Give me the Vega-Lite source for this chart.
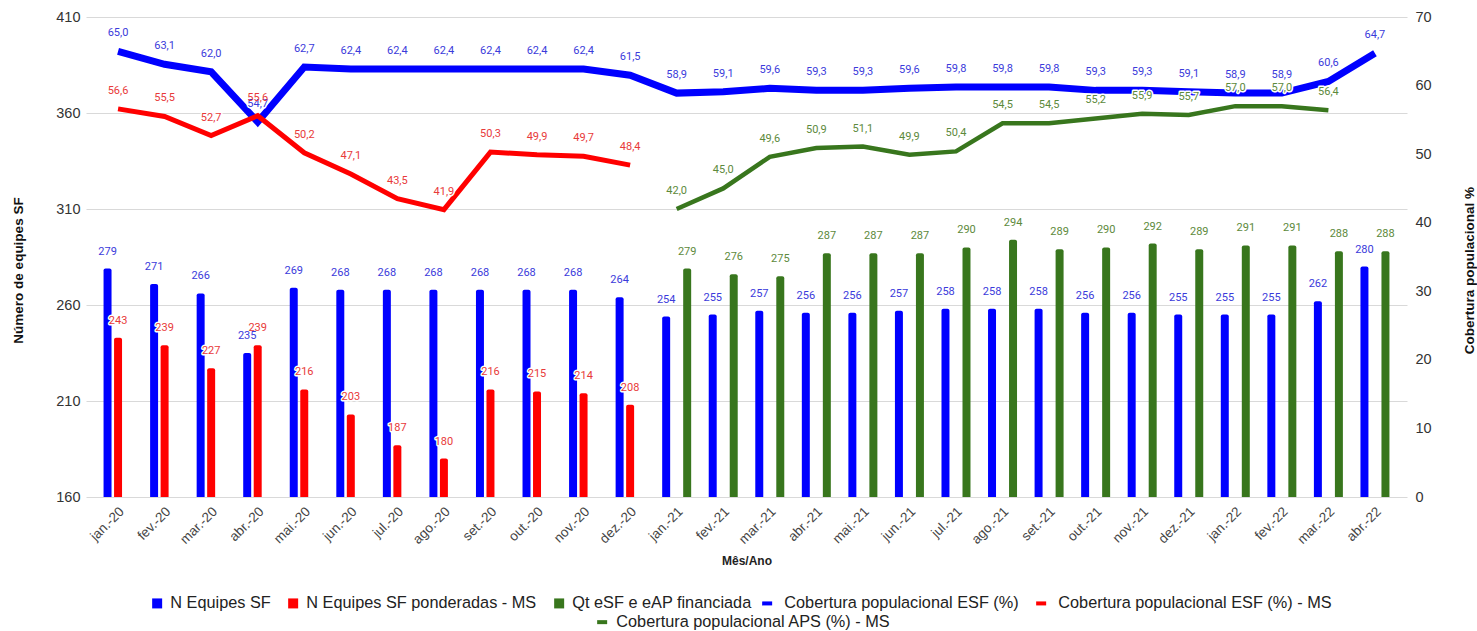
{
  "$schema": "https://vega.github.io/schema/vega-lite/v6.json",
  "width": 1321,
  "height": 480,
  "autosize": {"type": "none"},
  "padding": {"left": 86, "top": 17, "right": 70, "bottom": 134},
  "background": "white",
  "config": {
    "view": {"stroke": null},
    "locale": {"number": {"decimal": ",", "thousands": ".", "grouping": [3], "currency": ["R$", ""]}}
  },
  "datasets": {
    "barras": [
      {"m": "jan.-20", "s": "N Equipes SF", "v": 279},
      {"m": "fev.-20", "s": "N Equipes SF", "v": 271},
      {"m": "mar.-20", "s": "N Equipes SF", "v": 266},
      {"m": "abr.-20", "s": "N Equipes SF", "v": 235},
      {"m": "mai.-20", "s": "N Equipes SF", "v": 269},
      {"m": "jun.-20", "s": "N Equipes SF", "v": 268},
      {"m": "jul.-20", "s": "N Equipes SF", "v": 268},
      {"m": "ago.-20", "s": "N Equipes SF", "v": 268},
      {"m": "set.-20", "s": "N Equipes SF", "v": 268},
      {"m": "out.-20", "s": "N Equipes SF", "v": 268},
      {"m": "nov.-20", "s": "N Equipes SF", "v": 268},
      {"m": "dez.-20", "s": "N Equipes SF", "v": 264},
      {"m": "jan.-21", "s": "N Equipes SF", "v": 254},
      {"m": "fev.-21", "s": "N Equipes SF", "v": 255},
      {"m": "mar.-21", "s": "N Equipes SF", "v": 257},
      {"m": "abr.-21", "s": "N Equipes SF", "v": 256},
      {"m": "mai.-21", "s": "N Equipes SF", "v": 256},
      {"m": "jun.-21", "s": "N Equipes SF", "v": 257},
      {"m": "jul.-21", "s": "N Equipes SF", "v": 258},
      {"m": "ago.-21", "s": "N Equipes SF", "v": 258},
      {"m": "set.-21", "s": "N Equipes SF", "v": 258},
      {"m": "out.-21", "s": "N Equipes SF", "v": 256},
      {"m": "nov.-21", "s": "N Equipes SF", "v": 256},
      {"m": "dez.-21", "s": "N Equipes SF", "v": 255},
      {"m": "jan.-22", "s": "N Equipes SF", "v": 255},
      {"m": "fev.-22", "s": "N Equipes SF", "v": 255},
      {"m": "mar.-22", "s": "N Equipes SF", "v": 262},
      {"m": "abr.-22", "s": "N Equipes SF", "v": 280},
      {"m": "jan.-20", "s": "N Equipes SF ponderadas - MS", "v": 243},
      {"m": "fev.-20", "s": "N Equipes SF ponderadas - MS", "v": 239},
      {"m": "mar.-20", "s": "N Equipes SF ponderadas - MS", "v": 227},
      {"m": "abr.-20", "s": "N Equipes SF ponderadas - MS", "v": 239},
      {"m": "mai.-20", "s": "N Equipes SF ponderadas - MS", "v": 216},
      {"m": "jun.-20", "s": "N Equipes SF ponderadas - MS", "v": 203},
      {"m": "jul.-20", "s": "N Equipes SF ponderadas - MS", "v": 187},
      {"m": "ago.-20", "s": "N Equipes SF ponderadas - MS", "v": 180},
      {"m": "set.-20", "s": "N Equipes SF ponderadas - MS", "v": 216},
      {"m": "out.-20", "s": "N Equipes SF ponderadas - MS", "v": 215},
      {"m": "nov.-20", "s": "N Equipes SF ponderadas - MS", "v": 214},
      {"m": "dez.-20", "s": "N Equipes SF ponderadas - MS", "v": 208},
      {"m": "jan.-21", "s": "Qt eSF e eAP financiada", "v": 279},
      {"m": "fev.-21", "s": "Qt eSF e eAP financiada", "v": 276},
      {"m": "mar.-21", "s": "Qt eSF e eAP financiada", "v": 275},
      {"m": "abr.-21", "s": "Qt eSF e eAP financiada", "v": 287},
      {"m": "mai.-21", "s": "Qt eSF e eAP financiada", "v": 287},
      {"m": "jun.-21", "s": "Qt eSF e eAP financiada", "v": 287},
      {"m": "jul.-21", "s": "Qt eSF e eAP financiada", "v": 290},
      {"m": "ago.-21", "s": "Qt eSF e eAP financiada", "v": 294},
      {"m": "set.-21", "s": "Qt eSF e eAP financiada", "v": 289},
      {"m": "out.-21", "s": "Qt eSF e eAP financiada", "v": 290},
      {"m": "nov.-21", "s": "Qt eSF e eAP financiada", "v": 292},
      {"m": "dez.-21", "s": "Qt eSF e eAP financiada", "v": 289},
      {"m": "jan.-22", "s": "Qt eSF e eAP financiada", "v": 291},
      {"m": "fev.-22", "s": "Qt eSF e eAP financiada", "v": 291},
      {"m": "mar.-22", "s": "Qt eSF e eAP financiada", "v": 288},
      {"m": "abr.-22", "s": "Qt eSF e eAP financiada", "v": 288}
    ],
    "linhas": [
      {"m": "jan.-20", "s": "Cobertura populacional ESF (%)", "v": 65.0},
      {"m": "fev.-20", "s": "Cobertura populacional ESF (%)", "v": 63.1},
      {"m": "mar.-20", "s": "Cobertura populacional ESF (%)", "v": 62.0},
      {"m": "abr.-20", "s": "Cobertura populacional ESF (%)", "v": 54.7},
      {"m": "mai.-20", "s": "Cobertura populacional ESF (%)", "v": 62.7},
      {"m": "jun.-20", "s": "Cobertura populacional ESF (%)", "v": 62.4},
      {"m": "jul.-20", "s": "Cobertura populacional ESF (%)", "v": 62.4},
      {"m": "ago.-20", "s": "Cobertura populacional ESF (%)", "v": 62.4},
      {"m": "set.-20", "s": "Cobertura populacional ESF (%)", "v": 62.4},
      {"m": "out.-20", "s": "Cobertura populacional ESF (%)", "v": 62.4},
      {"m": "nov.-20", "s": "Cobertura populacional ESF (%)", "v": 62.4},
      {"m": "dez.-20", "s": "Cobertura populacional ESF (%)", "v": 61.5},
      {"m": "jan.-21", "s": "Cobertura populacional ESF (%)", "v": 58.9},
      {"m": "fev.-21", "s": "Cobertura populacional ESF (%)", "v": 59.1},
      {"m": "mar.-21", "s": "Cobertura populacional ESF (%)", "v": 59.6},
      {"m": "abr.-21", "s": "Cobertura populacional ESF (%)", "v": 59.3},
      {"m": "mai.-21", "s": "Cobertura populacional ESF (%)", "v": 59.3},
      {"m": "jun.-21", "s": "Cobertura populacional ESF (%)", "v": 59.6},
      {"m": "jul.-21", "s": "Cobertura populacional ESF (%)", "v": 59.8},
      {"m": "ago.-21", "s": "Cobertura populacional ESF (%)", "v": 59.8},
      {"m": "set.-21", "s": "Cobertura populacional ESF (%)", "v": 59.8},
      {"m": "out.-21", "s": "Cobertura populacional ESF (%)", "v": 59.3},
      {"m": "nov.-21", "s": "Cobertura populacional ESF (%)", "v": 59.3},
      {"m": "dez.-21", "s": "Cobertura populacional ESF (%)", "v": 59.1},
      {"m": "jan.-22", "s": "Cobertura populacional ESF (%)", "v": 58.9},
      {"m": "fev.-22", "s": "Cobertura populacional ESF (%)", "v": 58.9},
      {"m": "mar.-22", "s": "Cobertura populacional ESF (%)", "v": 60.6},
      {"m": "abr.-22", "s": "Cobertura populacional ESF (%)", "v": 64.7},
      {"m": "jan.-20", "s": "Cobertura populacional ESF (%) - MS", "v": 56.6},
      {"m": "fev.-20", "s": "Cobertura populacional ESF (%) - MS", "v": 55.5},
      {"m": "mar.-20", "s": "Cobertura populacional ESF (%) - MS", "v": 52.7},
      {"m": "abr.-20", "s": "Cobertura populacional ESF (%) - MS", "v": 55.6},
      {"m": "mai.-20", "s": "Cobertura populacional ESF (%) - MS", "v": 50.2},
      {"m": "jun.-20", "s": "Cobertura populacional ESF (%) - MS", "v": 47.1},
      {"m": "jul.-20", "s": "Cobertura populacional ESF (%) - MS", "v": 43.5},
      {"m": "ago.-20", "s": "Cobertura populacional ESF (%) - MS", "v": 41.9},
      {"m": "set.-20", "s": "Cobertura populacional ESF (%) - MS", "v": 50.3},
      {"m": "out.-20", "s": "Cobertura populacional ESF (%) - MS", "v": 49.9},
      {"m": "nov.-20", "s": "Cobertura populacional ESF (%) - MS", "v": 49.7},
      {"m": "dez.-20", "s": "Cobertura populacional ESF (%) - MS", "v": 48.4},
      {"m": "jan.-21", "s": "Cobertura populacional APS (%) - MS", "v": 42.0},
      {"m": "fev.-21", "s": "Cobertura populacional APS (%) - MS", "v": 45.0},
      {"m": "mar.-21", "s": "Cobertura populacional APS (%) - MS", "v": 49.6},
      {"m": "abr.-21", "s": "Cobertura populacional APS (%) - MS", "v": 50.9},
      {"m": "mai.-21", "s": "Cobertura populacional APS (%) - MS", "v": 51.1},
      {"m": "jun.-21", "s": "Cobertura populacional APS (%) - MS", "v": 49.9},
      {"m": "jul.-21", "s": "Cobertura populacional APS (%) - MS", "v": 50.4},
      {"m": "ago.-21", "s": "Cobertura populacional APS (%) - MS", "v": 54.5},
      {"m": "set.-21", "s": "Cobertura populacional APS (%) - MS", "v": 54.5},
      {"m": "out.-21", "s": "Cobertura populacional APS (%) - MS", "v": 55.2},
      {"m": "nov.-21", "s": "Cobertura populacional APS (%) - MS", "v": 55.9},
      {"m": "dez.-21", "s": "Cobertura populacional APS (%) - MS", "v": 55.7},
      {"m": "jan.-22", "s": "Cobertura populacional APS (%) - MS", "v": 57.0},
      {"m": "fev.-22", "s": "Cobertura populacional APS (%) - MS", "v": 57.0},
      {"m": "mar.-22", "s": "Cobertura populacional APS (%) - MS", "v": 56.4}
    ]
  },
  "encoding": {
    "x": {
      "field": "m", "type": "nominal",
      "sort": ["jan.-20","fev.-20","mar.-20","abr.-20","mai.-20","jun.-20","jul.-20","ago.-20","set.-20","out.-20","nov.-20","dez.-20","jan.-21","fev.-21","mar.-21","abr.-21","mai.-21","jun.-21","jul.-21","ago.-21","set.-21","out.-21","nov.-21","dez.-21","jan.-22","fev.-22","mar.-22","abr.-22"],
      "scale": {"paddingInner": 0.323, "paddingOuter": 0.35},
      "axis": {
        "title": "Mês/Ano", "titleFont": "Liberation Sans", "titleFontSize": 12, "titleFontWeight": "bold", "titleColor": "#222", "titlePadding": 10,
        "labelAngle": -45, "labelAlign": "right", "labelBaseline": "middle", "labelFont": "Liberation Sans", "labelFontSize": 13.5, "labelColor": "#444", "labelPadding": 12, "labelOffset": 4,
        "ticks": false, "domain": false, "grid": false
      }
    }
  },
  "layer": [
    {
      "data": {"name": "barras"},
      "encoding": {
        "y": {
          "field": "v", "type": "quantitative",
          "scale": {"domain": [160, 410], "zero": false, "nice": false},
          "axis": {
            "title": "Número de equipes SF", "orient": "left", "values": [160, 210, 260, 310, 360, 410],
            "grid": true, "gridColor": "#d9d9d9", "domain": false, "ticks": false,
            "labelFont": "Liberation Sans", "labelFontSize": 14.5, "labelColor": "#333", "labelPadding": 6,
            "titleFont": "Liberation Sans", "titleFontSize": 13.5, "titleFontWeight": "bold", "titleColor": "#111",
            "titleX": -68, "titleY": 253, "titleBaseline": "middle", "titleAlign": "center", "titleAngle": 270
          }
        }
      },
      "layer": [
        {
          "mark": {"type": "bar", "cornerRadiusTopLeft": 2, "cornerRadiusTopRight": 2},
          "encoding": {
            "y2": {"datum": 160},
            "xOffset": {"field": "s", "type": "nominal", "scale": {"domain": ["N Equipes SF", "N Equipes SF ponderadas - MS", "Qt eSF e eAP financiada"], "paddingInner": 0.24, "paddingOuter": 0.12}},
            "fill": {
              "field": "s", "type": "nominal",
              "scale": {"domain": ["N Equipes SF", "N Equipes SF ponderadas - MS", "Qt eSF e eAP financiada"], "range": ["#0000ff", "#ff0000", "#38761d"]},
              "legend": {"orient": "none", "legendX": 63, "legendY": 578, "direction": "horizontal", "title": null, "symbolType": "square", "symbolSize": 100, "symbolStrokeWidth": 0, "labelFont": "Liberation Sans", "labelFontSize": 16.3, "labelColor": "#222", "labelLimit": 0, "columnPadding": 14, "labelOffset": 5}
            }
          }
        },
        {
          "mark": {"type": "text", "dy": -17, "font": "Roboto", "fontSize": 11, "baseline": "middle", "stroke": "white", "strokeWidth": 3, "strokeJoin": "round"},
          "encoding": {
            "xOffset": {"field": "s", "type": "nominal", "scale": {"domain": ["N Equipes SF", "N Equipes SF ponderadas - MS", "Qt eSF e eAP financiada"], "paddingInner": 0.24, "paddingOuter": 0.12}},
            "text": {"field": "v", "type": "quantitative", "format": "d"}
          }
        },
        {
          "mark": {"type": "text", "dy": -17, "font": "Roboto", "fontSize": 11, "baseline": "middle"},
          "encoding": {
            "xOffset": {"field": "s", "type": "nominal", "scale": {"domain": ["N Equipes SF", "N Equipes SF ponderadas - MS", "Qt eSF e eAP financiada"], "paddingInner": 0.24, "paddingOuter": 0.12}},
            "text": {"field": "v", "type": "quantitative", "format": "d"},
            "fill": {"condition": [{"test": "datum.s === 'N Equipes SF'", "value": "#3b3bdb"}, {"test": "datum.s === 'N Equipes SF ponderadas - MS'", "value": "#e83a3a"}], "value": "#5d8a3c"}
          }
        }
      ]
    },
    {
      "data": {"name": "linhas"},
      "encoding": {
        "y": {
          "field": "v", "type": "quantitative",
          "scale": {"domain": [0, 70], "nice": false},
          "axis": {
            "title": "Cobertura populacional %", "orient": "right", "values": [0, 10, 20, 30, 40, 50, 60, 70],
            "grid": false, "domain": false, "ticks": false,
            "labelFont": "Liberation Sans", "labelFontSize": 14.5, "labelColor": "#333", "labelPadding": 8,
            "titleFont": "Liberation Sans", "titleFontSize": 13.5, "titleFontWeight": "bold", "titleColor": "#111",
            "titleX": 62, "titleY": 253, "titleBaseline": "middle", "titleAlign": "center", "titleAngle": 270
          }
        }
      },
      "layer": [
        {
          "transform": [{"filter": "datum.s === 'Cobertura populacional ESF (%)'"}],
          "mark": {"type": "line", "strokeWidth": 7, "strokeJoin": "miter"},
          "encoding": {
            "stroke": {
              "field": "s", "type": "nominal",
              "scale": {"domain": ["Cobertura populacional ESF (%)", "Cobertura populacional ESF (%) - MS"], "range": ["#0000ff", "#ff0000"]},
              "legend": {"orient": "none", "legendX": 673, "legendY": 578, "direction": "horizontal", "title": null, "symbolType": "stroke", "symbolSize": 100, "symbolStrokeWidth": 4, "labelFont": "Liberation Sans", "labelFontSize": 16.3, "labelColor": "#222", "labelLimit": 0, "columnPadding": 9, "labelOffset": 9}
            }
          }
        },
        {
          "transform": [{"filter": "datum.s === 'Cobertura populacional ESF (%) - MS'"}],
          "mark": {"type": "line", "strokeWidth": 5, "strokeJoin": "miter"},
          "encoding": {
            "stroke": {
              "field": "s", "type": "nominal",
              "scale": {"domain": ["Cobertura populacional ESF (%)", "Cobertura populacional ESF (%) - MS"], "range": ["#0000ff", "#ff0000"]}
            }
          }
        },
        {
          "transform": [{"filter": "datum.s === 'Cobertura populacional APS (%) - MS'"}],
          "mark": {"type": "line", "strokeWidth": 4.5, "strokeJoin": "miter"},
          "encoding": {
            "color": {
              "field": "s", "type": "nominal",
              "scale": {"domain": ["Cobertura populacional APS (%) - MS"], "range": ["#38761d"]},
              "legend": {"orient": "none", "legendX": 508, "legendY": 597, "direction": "horizontal", "title": null, "symbolType": "stroke", "symbolSize": 100, "symbolStrokeWidth": 4, "labelFont": "Liberation Sans", "labelFontSize": 16.3, "labelColor": "#222", "labelLimit": 0, "labelOffset": 6}
            }
          }
        },
        {
          "mark": {"type": "text", "dy": -18, "font": "Roboto", "fontSize": 11, "baseline": "middle", "stroke": "white", "strokeWidth": 3, "strokeJoin": "round"},
          "encoding": {
            "text": {"field": "v", "type": "quantitative", "format": ".1f"}
          }
        },
        {
          "mark": {"type": "text", "dy": -18, "font": "Roboto", "fontSize": 11, "baseline": "middle"},
          "encoding": {
            "text": {"field": "v", "type": "quantitative", "format": ".1f"},
            "fill": {"condition": [{"test": "datum.s === 'Cobertura populacional ESF (%)'", "value": "#3b3bdb"}, {"test": "datum.s === 'Cobertura populacional ESF (%) - MS'", "value": "#e83a3a"}], "value": "#5d8a3c"}
          }
        }
      ]
    }
  ],
  "resolve": {"scale": {"y": "independent"}}
}
